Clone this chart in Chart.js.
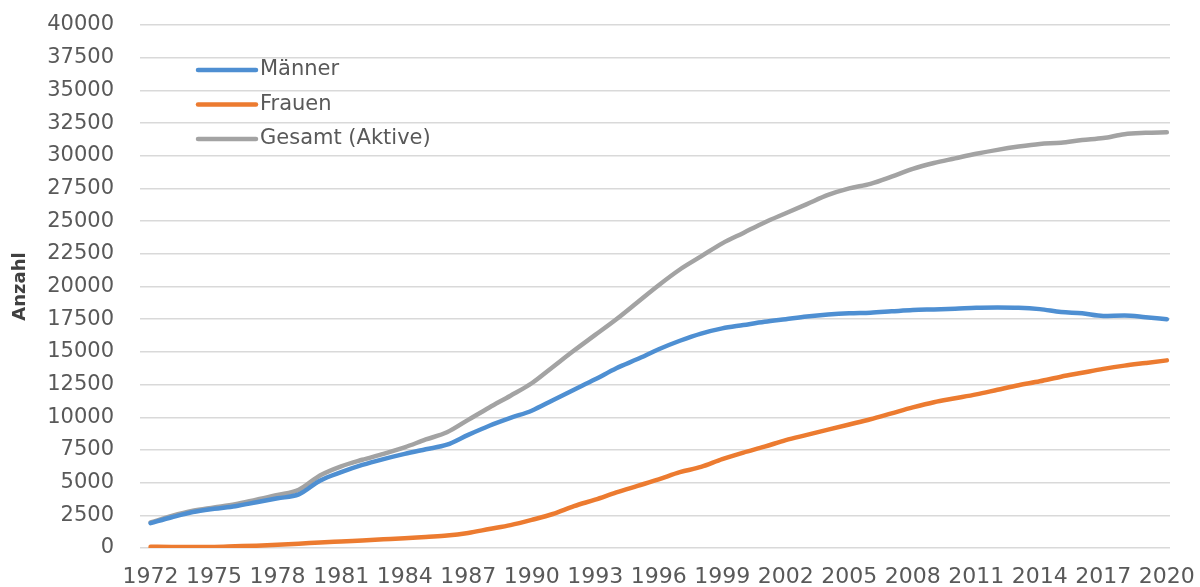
<!DOCTYPE html>
<html lang="de">
<head>
<meta charset="utf-8">
<title>Anzahl Männer, Frauen, Gesamt (Aktive) 1972–2020</title>
<script src="https://cdn.jsdelivr.net/npm/chart.js@4/dist/chart.umd.min.js"></script>
<style>
  html, body { margin: 0; padding: 0; background: #ffffff; }
  #wrap { width: 1200px; height: 587px; }
</style>
</head>
<body>
<div id="wrap"><canvas id="c" width="1200" height="587"></canvas></div>
<script>
// Jahre 1972–2020
const years = [
  1972, 1973, 1974, 1975, 1976, 1977, 1978, 1979, 1980, 1981,
  1982, 1983, 1984, 1985, 1986, 1987, 1988, 1989, 1990, 1991,
  1992, 1993, 1994, 1995, 1996, 1997, 1998, 1999, 2000, 2001,
  2002, 2003, 2004, 2005, 2006, 2007, 2008, 2009, 2010, 2011,
  2012, 2013, 2014, 2015, 2016, 2017, 2018, 2019, 2020
];

const maenner = [
  1900, 2350, 2750, 3000, 3200, 3500, 3800, 4100, 5150, 5800,
  6350, 6800, 7200, 7550, 7900, 8650, 9350, 9950, 10500, 11300,
  12100, 12900, 13750, 14450, 15200, 15850, 16400, 16800, 17050, 17300,
  17500, 17700, 17850, 17950, 18000, 18100, 18200, 18250, 18300, 18380,
  18400, 18380, 18270, 18050, 17950, 17750, 17780, 17650, 17500
];

const frauen = [
  100, 80, 70, 80, 130, 180, 250, 330, 420, 500,
  580, 660, 740, 850, 950, 1150, 1450, 1750, 2150, 2600,
  3200, 3700, 4250, 4750, 5250, 5800, 6200, 6800, 7300, 7750,
  8250, 8650, 9050, 9450, 9850, 10300, 10750, 11150, 11450, 11750,
  12100, 12450, 12750, 13100, 13400, 13700, 13950, 14150, 14350
];

const gesamt = [
  1950, 2450, 2850, 3100, 3350, 3700, 4050, 4450, 5550, 6250,
  6750, 7200, 7700, 8300, 8850, 9800, 10750, 11650, 12600, 13850,
  15100, 16300, 17500, 18800, 20100, 21300, 22300, 23300, 24100, 24900,
  25600, 26300, 27000, 27500, 27850, 28400, 29000, 29450, 29800, 30150,
  30450, 30700, 30900, 31000, 31200, 31350, 31650, 31750, 31800
];

const xTickYears = [1972, 1975, 1978, 1981, 1984, 1987, 1990, 1993, 1996, 1999, 2002, 2005, 2008, 2011, 2014, 2017, 2020];
const seriesNames = ['Männer', 'Frauen', 'Gesamt (Aktive)'];
const seriesColors = ['#4E8FD2', '#EC7B30', '#A3A3A3'];

const textColor = '#595959';
const fontFamily = '"DejaVu Sans", "Liberation Sans", sans-serif';

const toPoints = vals => years.map((yr, i) => ({ x: yr, y: vals[i] }));

// Legende oben links innerhalb der Zeichenfläche
const innerLegend = {
  id: 'innerLegend',
  afterDatasetsDraw(chart) {
    const { ctx, chartArea } = chart;
    const x0 = chartArea.left + 58;
    const y0 = chartArea.top + 45;
    const rowGap = 34.5;
    ctx.save();
    ctx.font = '21px ' + fontFamily;
    ctx.textBaseline = 'middle';
    ctx.textAlign = 'left';
    chart.data.datasets.forEach((ds, i) => {
      const y = y0 + i * rowGap;
      ctx.strokeStyle = ds.borderColor;
      ctx.lineWidth = 4.5;
      ctx.lineCap = 'round';
      ctx.beginPath();
      ctx.moveTo(x0, y);
      ctx.lineTo(x0 + 58, y);
      ctx.stroke();
      ctx.fillStyle = textColor;
      ctx.fillText(ds.label, x0 + 62, y);
    });
    ctx.restore();
  }
};

new Chart(document.getElementById('c'), {
  type: 'line',
  data: {
    datasets: [
      { label: seriesNames[0], data: toPoints(maenner), borderColor: seriesColors[0] },
      { label: seriesNames[1], data: toPoints(frauen), borderColor: seriesColors[1] },
      { label: seriesNames[2], data: toPoints(gesamt), borderColor: seriesColors[2] }
    ].map(d => Object.assign(d, {
      borderWidth: 4.5,
      pointRadius: 0,
      tension: 0.3,
      cubicInterpolationMode: 'monotone',
      fill: false,
      borderCapStyle: 'round',
      borderJoinStyle: 'round'
    }))
  },
  options: {
    responsive: false,
    animation: false,
    layout: { padding: { top: 25, right: 30, left: 0, bottom: 0 } },
    plugins: {
      legend: { display: false },
      tooltip: { enabled: false }
    },
    scales: {
      x: {
        type: 'linear',
        min: 1971.5,
        max: 2020.15,
        afterBuildTicks(scale) {
          scale.ticks = xTickYears.map(v => ({ value: v }));
        },
        afterFit(scale) {
          scale.height = 39;
          scale.paddingLeft = 0;
          scale.paddingRight = 0;
        },
        grid: { display: false, drawTicks: false },
        border: { display: false },
        ticks: {
          autoSkip: false,
          maxRotation: 0,
          padding: 16,
          color: textColor,
          font: { family: fontFamily, size: 22 },
          callback: v => String(v)
        }
      },
      y: {
        min: 0,
        max: 40000,
        afterFit(scale) {
          scale.width = 140;
          scale.paddingTop = 0;
          scale.paddingBottom = 0;
        },
        grid: { color: '#D9D9D9', lineWidth: 1.5, drawTicks: false },
        border: { display: false },
        ticks: {
          stepSize: 2500,
          padding: 26,
          color: textColor,
          font: { family: fontFamily, size: 21 },
          callback: v => String(v)
        },
        title: {
          display: true,
          text: 'Anzahl',
          color: '#404040',
          font: { family: fontFamily, size: 18, weight: 'bold' },
          padding: { top: 10, bottom: 0 }
        }
      }
    }
  },
  plugins: [innerLegend]
});
</script>
</body>
</html>
